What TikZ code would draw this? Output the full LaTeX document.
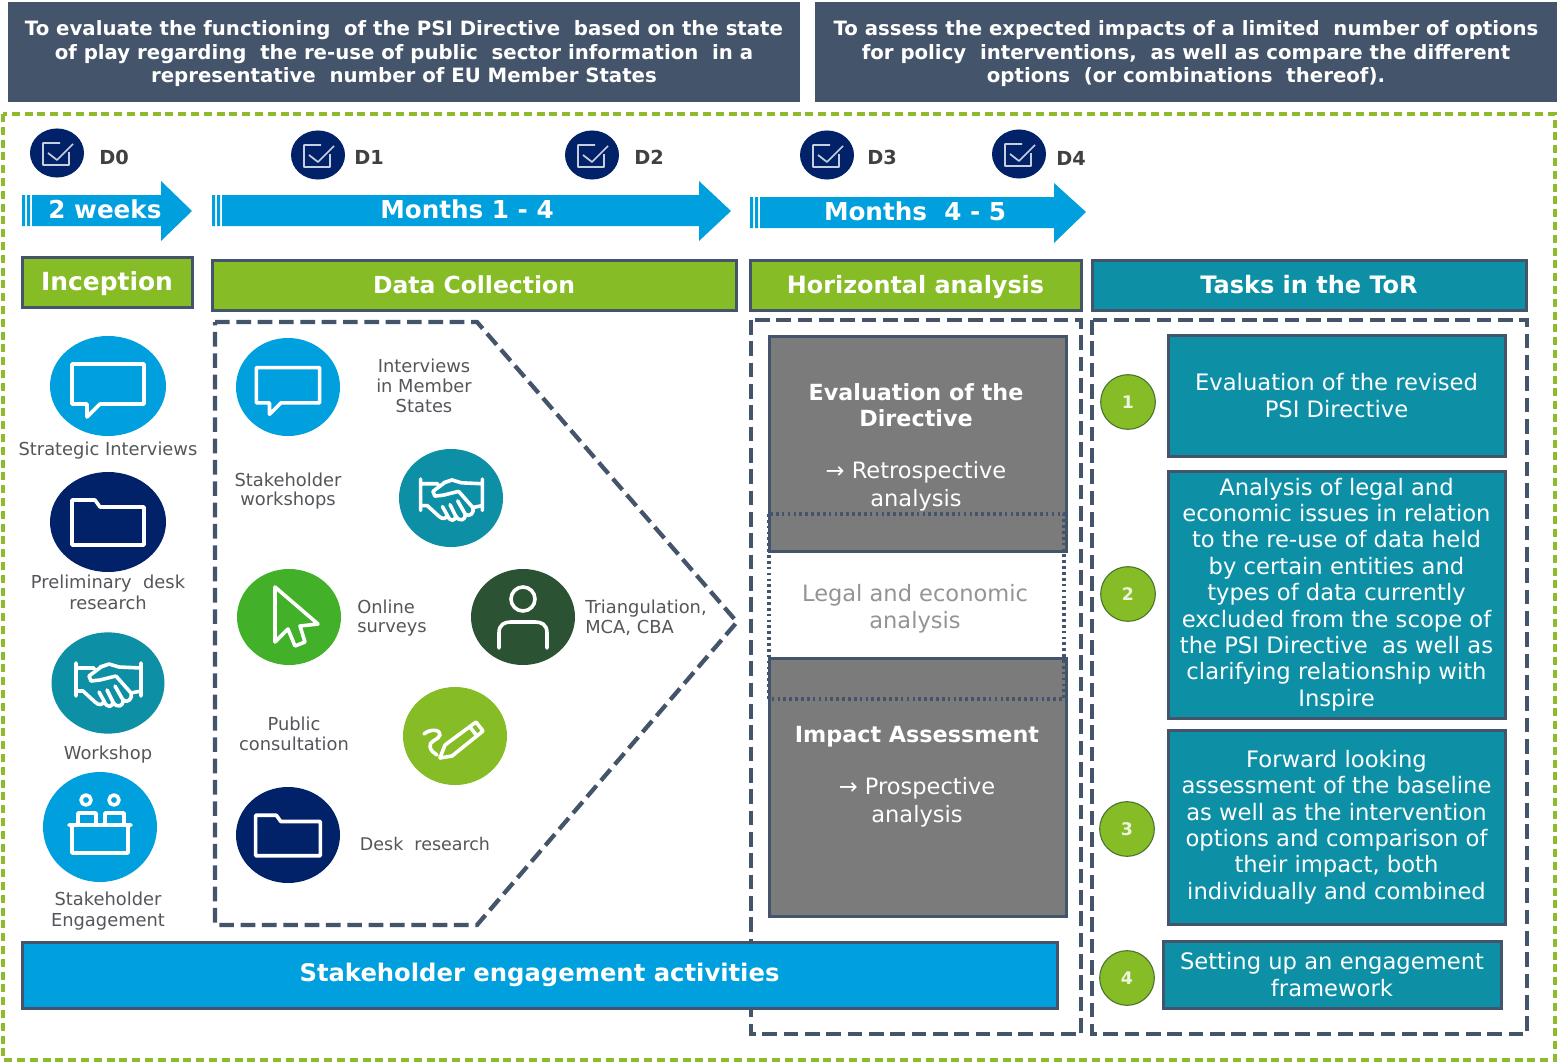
\documentclass[tikz,border=0pt]{standalone}
\usepackage{fontspec}
\setmainfont{DejaVu Sans}
\usetikzlibrary{shapes.geometric}
\definecolor{slateD}{HTML}{44546A}
\definecolor{frameG}{HTML}{8DBB2C}
\definecolor{limeG}{HTML}{86BC25}
\definecolor{skyB}{HTML}{009FDD}
\definecolor{navyB}{HTML}{012169}
\definecolor{tealB}{HTML}{0D8FA6}
\definecolor{grassG}{HTML}{43B02A}
\definecolor{forestG}{HTML}{2C5234}
\definecolor{greyB}{HTML}{7B7B7B}
\definecolor{labelT}{HTML}{53565A}
\newcommand{\pxbox}[7][]{\node[#2,#1,minimum width={(#5-#3)*0.75pt},minimum height={(#6-#4)*0.75pt}] (#7) at ({(#3+#5)/2},{(#4+#6)/2})}
\newcommand{\fsz}[2]{\fontsize{#1}{#2}\selectfont}
\tikzset{
  x=0.75pt,y=-0.75pt,
  basebox/.style={rectangle,draw=slateD,line width=2.25pt,inner sep=0pt,align=center,text=white},
  topbox/.style={rectangle,fill=slateD,inner sep=0pt,align=center,text=white,font=\bfseries\fsz{14.8}{17.6}},
  hdrbox/.style={basebox,fill=limeG,text height=13pt,text depth=0pt},
  hdrteal/.style={basebox,fill=tealB,font=\bfseries\fsz{18}{21},text height=13pt,text depth=0pt},
  greybox/.style={basebox,fill=greyB},
  taskbox/.style={basebox,fill=tealB,font=\fsz{17}{19.8},execute at begin node={\rule{0pt}{19pt}}},
  barbox/.style={basebox,fill=skyB,font=\bfseries\fsz{18.2}{21}},
  dashline/.style={draw=slateD,line width=3.2pt,dash pattern=on 11pt off 5pt},
  dotline/.style={draw=slateD,line width=2.4pt,dash pattern=on 2pt off 2.4pt},
  disc/.style={ellipse,inner sep=0pt,minimum width=#1*0.75pt},
  ictn/.style={draw=white,line width=2.7pt,line join=round,line cap=round},
  lbl/.style={text=labelT,align=center,inner sep=0pt,font=\fsz{13.4}{15.8}},
  lbltight/.style={lbl,font=\fsz{13.4}{14.8}},
  delivtxt/.style={text=black!75,inner sep=0pt,font=\bfseries\fsz{14.5}{17}},
  numdisc/.style={circle,draw=forestG!70!limeG,line width=0.8pt,fill=limeG,minimum size=41pt,inner sep=0pt,text=white!85!limeG,font=\bfseries\fsz{13}{15}},
  arrowtxt/.style={text=white,inner sep=0pt,font=\bfseries\fsz{18.5}{21}},
  grptitle/.style={text=white,align=center,inner sep=0pt,font=\bfseries\fsz{16.7}{19.8}},
  grpbody/.style={text=white,align=center,inner sep=0pt,font=\fsz{16.9}{21}},
  chatpic/.pic={\draw[ictn] (-36,-22)--(36,-22)--(36,18)--(-8,18)--(-21,31)--(-21,18)--(-36,18)--cycle;},
  folderpic/.pic={\draw[ictn] (-36,23)--(-36,-22)--(-13,-22)--(-8,-15)--(36,-15)--(36,23)--cycle;},
  handpic/.pic={\draw[ictn] (-32,-20)--(-32,13) (33,-20)--(33,13) (-32,-15)--(-14,-15) (-8,-16)--(1,-19)--(11,-16)--(33,-15)
      (-32,8)--(-25,8)--(-13,19) .. controls (-9,23) and (-5,22) .. (-4,18)
      .. controls (-1,26) and (5,24) .. (5,19) .. controls (9,26) and (16,23) .. (15,17)
      .. controls (20,21) and (25,15) .. (23,10)--(33,8)
      (-4,18)--(-9,9) (5,19)--(-1,7) (15,17)--(7,3) (23,10)--(8,-7)
      (8,-7)--(-8,-3)--(-17,-2)--(-19,-7)--(-7,-16)--(1,-19);},
  cursorpic/.pic={\draw[ictn] (-14,-30)--(-14,25)--(-1,12)--(6,29)--(16,25)--(11,9)--(29,7)--cycle;},
  personpic/.pic={\draw[ictn] (0,-18) circle (12) (-24,31)--(-24,16) .. controls (-24,7) and (-18,5) .. (-12,5)--(12,5) .. controls (18,5) and (24,7) .. (24,16)--(24,31);},
  penpic/.pic={\draw[ictn] (-15,22)--(-10,9)--(21,-14)--(28,-5)--(-3,20)--cycle (15,-9)--(22,0)
      (-31,-2) .. controls (-24,-8) and (-14,-6) .. (-15,-1) .. controls (-16,4) and (-27,5) .. (-25,11) .. controls (-24,15) and (-21,17) .. (-18,19);},
  benchpic/.pic={\draw[ictn] (-31,-2)--(31,-2) (-28,-2)--(-28,26)--(28,26)--(28,-2)
      (-22,-2)--(-22,-14)--(-4,-14)--(-4,-2) (5,-2)--(5,-14)--(24,-14)--(24,-2)
      (-14,-27) circle (5) (14,-27) circle (5);},
  checkpic/.pic={\draw[draw=white!78!navyB,line width=1.3pt,line join=round] (3,-10)--(-14,-10)--(-14,12)--(12,12)--(12,-1) (-9,0)--(0,7)--(16,-9);},
}
\begin{document}
\begin{tikzpicture}
\useasboundingbox (0,0) rectangle (1557,1063);
\fill[white] (0,0) rectangle (1557,1063);

% top banners
\pxbox{topbox}{8}{2}{800}{106}{ban1}{To evaluate the functioning\ \ of the PSI Directive\ \ based on the state\\of play regarding\ \ the re-use of public\ \ sector information\ \ in a\\representative\ \ number of EU Member States};
\pxbox{topbox}{815}{2}{1557}{106}{ban2}{To assess the expected impacts of a limited\ \ number of options\\for policy\ \ interventions,\ \ as well as compare the different\\options\ \ (or combinations\ \ thereof).};
\fill[white] (0,102) rectangle (1557,110);

% green frame
\draw[draw=frameG,line width=3.2pt,dash pattern=on 6pt off 3.6pt] (3,114) rectangle (1555,1060);

% deliverables
\foreach \nm/\cx/\cy/\lx/\ly/\tx in {d0/57/153/114/157/D0,d1/318/155/369/157/D1,d2/592/155/649/157/D2,d3/827/155/882/157/D3,d4/1019/154/1071/158/D4}{
  \node[disc=54,minimum height=36.8pt,fill=navyB] (\nm) at (\cx,\cy) {};
  \pic at (\nm.center) {checkpic};
  \node[delivtxt] (\nm t) at (\lx,\ly) {\tx};
}

% period arrows
\fill[skyB] (32,195)--(161,195)--(161,181)--(192,211)--(161,241)--(161,226)--(32,226)--cycle;
\fill[skyB] (22,195) rectangle (25,226) (27,195) rectangle (30,226);
\node[arrowtxt] (a0) at (105,209) {2 weeks};
\fill[skyB] (222,195)--(699,195)--(699,181)--(731,211)--(699,241)--(699,226)--(222,226)--cycle;
\fill[skyB] (212,195) rectangle (215,226) (217,195) rectangle (220,226);
\node[arrowtxt] (a1) at (467,209) {Months 1 - 4};
\fill[skyB] (760,197)--(1054,197)--(1054,183)--(1086,212)--(1054,243)--(1054,228)--(760,228)--cycle;
\fill[skyB] (750,197) rectangle (753,228) (755,197) rectangle (758,228);
\node[arrowtxt] (a2) at (915,211) {Months\ \ 4 - 5};

% headers
\pxbox[font=\bfseries\fsz{18.7}{21}]{hdrbox}{22}{257}{192}{307}{h0}{Inception};
\pxbox[font=\bfseries\fsz{17.6}{21}]{hdrbox}{212}{260}{736}{310}{h1}{Data Collection};
\pxbox[font=\bfseries\fsz{17.9}{21}]{hdrbox}{750}{260}{1081}{310}{h2}{Horizontal analysis};
\pxbox{hdrteal}{1092}{260}{1526}{310}{h3}{Tasks in the ToR};

% dashed containers
\draw[dashline,line join=miter] (215,322)--(477,322)--(737,622)--(477,925)--(215,925)--cycle;
\draw[dashline] (751,320) rectangle (1081,1034);
\draw[dashline] (1092,320) rectangle (1527,1034);

% left column
\node[disc=116,minimum height=75pt,fill=skyB] (i1) at (108,386) {};
\pic at (i1.center) {chatpic};
\node[lbl] (l1) at (108,451) {Strategic Interviews};
\node[disc=116,minimum height=75pt,fill=navyB] (i2) at (108,522) {};
\pic at (i2.center) {folderpic};
\node[lbl] (l2) at (108,592) {Preliminary\ \ desk\\research};
\node[disc=113,minimum height=76pt,fill=tealB] (i3) at (108,683) {};
\pic at (i3.center) {handpic};
\node[lbl] (l3) at (108,755) {Workshop};
\node[disc=114,minimum height=82.5pt,fill=skyB] (i4) at (100,827) {};
\pic at (i4.center) {benchpic};
\node[lbl] (l4) at (108,911) {Stakeholder\\Engagement};

% data collection
\node[disc=104,minimum height=73.5pt,fill=skyB] (c1) at (288,387) {};
\pic[scale=0.88] at (c1.center) {chatpic};
\node[lbltight] (cl1) at (424,386) {Interviews\\in Member\\States};
\node[disc=104,minimum height=73.5pt,fill=tealB] (c2) at (451,498) {};
\pic[scale=0.95] at (c2.center) {handpic};
\node[lbltight] (cl2) at (288,491) {Stakeholder\\workshops};
\node[disc=104,minimum height=72pt,fill=grassG] (c3) at (289,617) {};
\pic at (c3.center) {cursorpic};
\node[lbltight,align=left] (cl3) at (392,618) {Online\\surveys};
\node[disc=104,minimum height=72pt,fill=forestG] (c4) at (523,617) {};
\pic at (c4.center) {personpic};
\node[lbltight,align=left] (cl4) at (646,618) {Triangulation,\\MCA, CBA};
\node[disc=104,minimum height=73.5pt,fill=limeG] (c5) at (455,736) {};
\pic at (c5.center) {penpic};
\node[lbltight] (cl5) at (294,734) {Public\\consultation};
\node[disc=104,minimum height=72pt,fill=navyB] (c6) at (288,835) {};
\pic[scale=0.9] at (c6.center) {folderpic};
\node[lbl,font=\fsz{13.1}{15.8}] (cl6) at (425,844) {Desk\ \ research};

% horizontal analysis
\pxbox{greybox}{769}{336}{1066}{551}{g1}{};
\pxbox{greybox}{769}{658}{1066}{916}{g2}{};
\node[grptitle] (g1a) at (916,405) {Evaluation of the\\Directive};
\node[grpbody] (g1b) at (916,486) {→ Retrospective\\analysis};
\node[text=black!42,align=center,inner sep=0pt,font=\fsz{16.9}{20}] (lg) at (915,609) {Legal and economic\\analysis};
\node[grptitle] (g2a) at (917,737) {Impact Assessment};
\node[grpbody] (g2b) at (917,802) {→ Prospective\\analysis};
\draw[dotline] (769,514) rectangle (1064,699);

% stakeholder bar
\pxbox{barbox}{22}{942}{1057}{1008}{bar}{Stakeholder engagement activities};

% tasks
\foreach \nm/\cx/\cy/\tx in {n1/1128/402/1,n2/1128/594/2,n3/1127/829/3,n4/1127/978/4}{
  \node[numdisc] (\nm) at (\cx,\cy) {\tx};
}
\pxbox{taskbox}{1168}{335}{1505}{456}{t1}{Evaluation of the revised\\PSI Directive};
\pxbox{taskbox}{1168}{471}{1505}{718}{t2}{Analysis of legal and\\economic issues in relation\\to the re-use of data held\\by certain entities and\\types of data currently\\excluded from the scope of\\the PSI Directive\ \ as well as\\clarifying relationship with\\Inspire};
\pxbox{taskbox}{1168}{730}{1505}{924}{t3}{Forward looking\\assessment of the baseline\\as well as the intervention\\options and comparison of\\their impact, both\\individually and combined};
\pxbox{taskbox}{1163}{941}{1501}{1008}{t4}{Setting up an engagement\\framework};
\end{tikzpicture}
\end{document}
